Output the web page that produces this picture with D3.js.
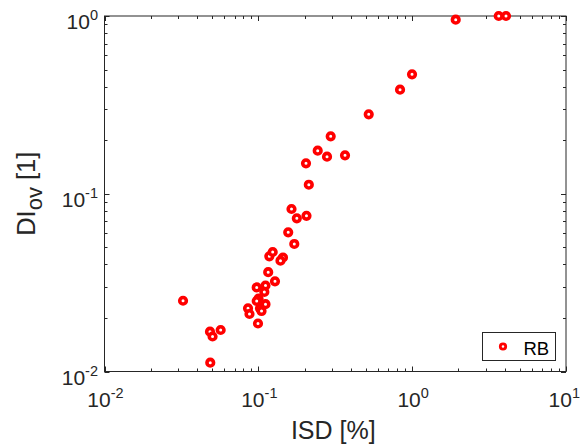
<!DOCTYPE html>
<html>
<head>
<meta charset="utf-8">
<script src="https://cdn.jsdelivr.net/npm/d3@7"></script>
<style>
  html, body { margin: 0; padding: 0; background: #fff; }
  svg { display: block; }
  text { font-family: "Liberation Sans", Arial, Helvetica, sans-serif; fill: #262626; }
</style>
</head>
<body>
<svg id="chart" width="581" height="445"></svg>
<script>
// ISD [%] vs. overall damage index, series "RB"
const isd = [0.0324, 0.0485, 0.0504, 0.0569, 0.0487, 0.0857, 0.0876, 0.0976, 0.1113, 0.1283,
             0.1094, 0.1003, 0.0976, 0.1113, 0.1025, 0.1049, 0.0995, 0.1159, 0.1179, 0.1240,
             0.1446, 0.1393, 0.1564, 0.1713, 0.1643, 0.1779, 0.2056, 0.2129, 0.2041, 0.2432,
             0.2796, 0.2954, 0.3660, 0.5219, 0.834, 0.998, 1.919, 3.653, 4.074];
const diov = [0.0250, 0.01675, 0.01574, 0.01712, 0.01121, 0.02268, 0.02106, 0.02970, 0.03047, 0.03217,
              0.02802, 0.02575, 0.02492, 0.02391, 0.02268, 0.02189, 0.01862, 0.03620, 0.04446, 0.04701,
              0.04378, 0.04200, 0.06068, 0.05217, 0.08206, 0.07276, 0.07515, 0.1124, 0.1484, 0.1747,
              0.1616, 0.2105, 0.1646, 0.2799, 0.3848, 0.4699, 0.953, 1.0, 1.0];
const seriesName = "RB";
const xDecades = [-2, -1, 0, 1];
const yDecades = [-2, -1, 0];

const W = 581;
const svg = d3.select("#chart");
const plotL = 104.5, plotR = 566, plotT = 16, plotB = 371.5;
const axisColor = "#262626";

const x = d3.scaleLog().domain([1e-2, 1e1]).range([plotL, plotR]);
const y = d3.scaleLog().domain([1e-2, 1e0]).range([plotB, plotT]);

// minor tick values (2..9 within each decade)
function minors(decades) {
  const out = [];
  for (let i = 0; i < decades.length - 1; i++)
    for (let m = 2; m <= 9; m++) out.push(m * Math.pow(10, decades[i]));
  return out;
}
const xMajor = xDecades.map(d => Math.pow(10, d));
const yMajor = yDecades.map(d => Math.pow(10, d));
const xMinor = minors(xDecades);
const yMinor = minors(yDecades);

const g = svg.append("g");

// box
g.append("rect")
  .attr("x", plotL).attr("y", plotT)
  .attr("width", plotR - plotL).attr("height", plotB - plotT)
  .attr("fill", "#fff").attr("stroke", axisColor).attr("stroke-width", 1);

// ticks, pointing inward on all four sides
const majLen = 5, minLen = 3;
function xTicks(vals, len) {
  vals.forEach(v => {
    const px = Math.round(x(v)) + 0.5;
    g.append("line").attr("x1", px).attr("x2", px).attr("y1", plotB).attr("y2", plotB - len)
      .attr("stroke", axisColor).attr("stroke-width", 1);
    g.append("line").attr("x1", px).attr("x2", px).attr("y1", plotT).attr("y2", plotT + len)
      .attr("stroke", axisColor).attr("stroke-width", 1);
  });
}
function yTicks(vals, len) {
  vals.forEach(v => {
    const py = Math.round(y(v)) + 0.5;
    g.append("line").attr("y1", py).attr("y2", py).attr("x1", plotL).attr("x2", plotL + len)
      .attr("stroke", axisColor).attr("stroke-width", 1);
    g.append("line").attr("y1", py).attr("y2", py).attr("x1", plotR).attr("x2", plotR - len)
      .attr("stroke", axisColor).attr("stroke-width", 1);
  });
}
xTicks(xMajor, majLen); xTicks(xMinor, minLen);
yTicks(yMajor, majLen); yTicks(yMinor, minLen);

// power-of-ten tick labels
function powLabel(sel, exp) {
  sel.append("tspan").text("10");
  sel.append("tspan").attr("dy", -9).attr("font-size", 14.5).text(String(exp));
}
xDecades.forEach(d => {
  const t = g.append("text")
    .attr("x", x(Math.pow(10, d)) + 1)
    .attr("y", 406.5)
    .attr("text-anchor", "middle")
    .attr("font-size", 21);
  powLabel(t, d);
  // keep the rightmost label inside the page
  const bb = t.node().getBBox();
  if (bb.x + bb.width > W - 1) t.attr("x", +t.attr("x") - (bb.x + bb.width - (W - 1)));
});
yDecades.forEach(d => {
  const t = g.append("text")
    .attr("x", 98)
    .attr("y", y(Math.pow(10, d)) + 13)
    .attr("text-anchor", "end")
    .attr("font-size", 21);
  powLabel(t, d);
});

// axis labels
g.append("text")
  .attr("x", (plotL + plotR) / 2 - 2)
  .attr("y", 438.5)
  .attr("text-anchor", "middle")
  .attr("font-size", 25)
  .text("ISD [%]");

const yl = g.append("text")
  .attr("transform", `translate(35,${(plotT + plotB) / 2}) rotate(-90)`)
  .attr("text-anchor", "middle")
  .attr("font-size", 25.5);
yl.append("tspan").text("DI");
yl.append("tspan").attr("dy", 7).attr("font-size", 22).text("ov");
yl.append("tspan").attr("dy", -7).text(" [1]");

// markers
g.append("g").selectAll("circle")
  .data(isd.map((v, i) => [v, diov[i]]))
  .join("circle")
  .attr("cx", d => x(d[0]))
  .attr("cy", d => y(d[1]))
  .attr("r", 3.3)
  .attr("fill", "#fff")
  .attr("stroke", "#ff0000")
  .attr("stroke-width", 3.6);

// legend
const lg = g.append("g");
lg.append("rect")
  .attr("x", 482.5).attr("y", 332.5).attr("width", 73).attr("height", 28)
  .attr("fill", "#fff").attr("stroke", axisColor).attr("stroke-width", 1);
lg.append("circle")
  .attr("cx", 503).attr("cy", 346.5).attr("r", 2.7)
  .attr("fill", "#fff").attr("stroke", "#ff0000").attr("stroke-width", 2.8);
lg.append("text")
  .attr("x", 523.5).attr("y", 354.5)
  .attr("font-size", 18.5)
  .style("fill", "#000")
  .text(seriesName);
</script>
</body>
</html>
